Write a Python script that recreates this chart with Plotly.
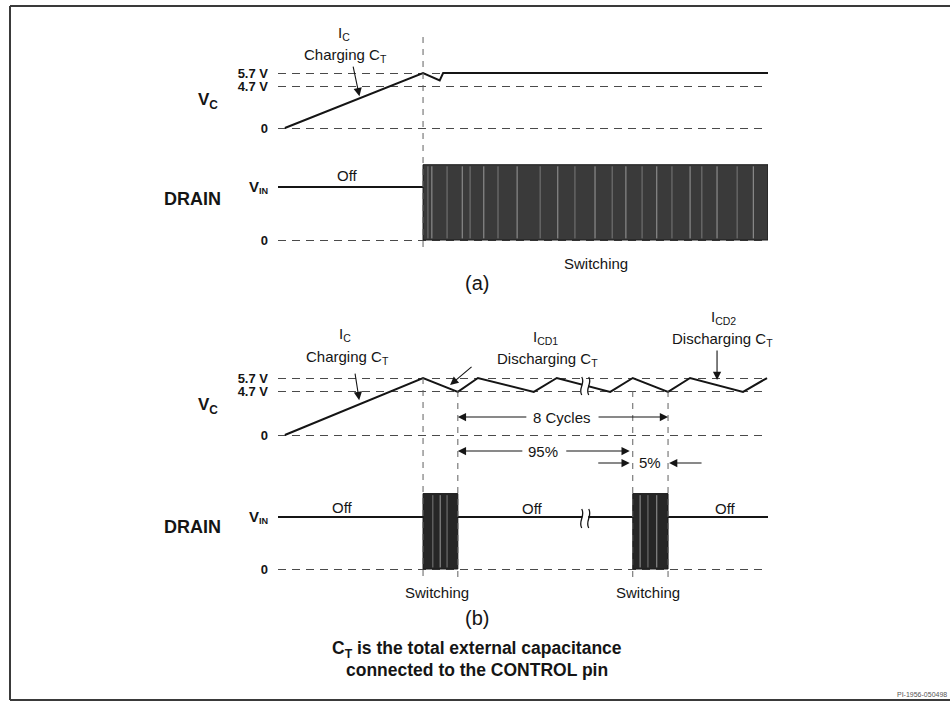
import numpy as np
import plotly.graph_objects as go

W, H = 950, 701
FONT = "Liberation Sans, Arial, sans-serif"

# ------------------------------------------------------------------ data
# schematic time axis (arbitrary units) shared by both timing diagrams
T_RANGE = [0, 100]

# schematic level used to draw each labelled voltage
VC_TICK_TEXT = ["0", "4.7 V", "5.7 V"]
VC_TICK_LEVEL = [0, 3.1, 4.1]
DRAIN_TICK_TEXT = ["0", "<span style='font-size:15px'>V</span><sub>IN</sub>"]
DRAIN_TICK_LEVEL = [0, 1]

# (a) power-up: C_T charges, then switching begins
VC_A_T = [1.4, 29.6, 33.0, 33.7, 100]
VC_A_V = [0, 4.1, 3.55, 4.1, 4.1]
DRAIN_A_OFF_T = [0, 29.6]
DRAIN_A_OFF_V = [1, 1]
SWITCH_A = [[29.6, 100]]
SWITCH_A_PEAK = 1.42
SWITCH_A_STREAKS = [30.6, 31.4, 34.5, 37.6, 39.2, 42.0, 44.9, 48.8, 53.5, 57.1, 60.6,
                    64.7, 68.2, 71.0, 74.3, 77.3, 80.4, 84.1, 86.5, 89.6, 93.7, 97.0]
MARK_A = [29.6]

# (b) auto-restart: 8 cycles of the sawtooth between 5.7 V and 4.7 V
VC_B_T = [1.4, 29.6, 36.7, 40.8, 52.2, 56.9, 67.8, 72.4, 79.6, 84.1, 94.9, 99.8]
VC_B_V = [0, 4.1, 3.1, 4.1, 3.1, 4.1, 3.1, 4.1, 3.1, 4.1, 3.1, 4.1]
DRAIN_B_OFF_T = [0, 100]
DRAIN_B_OFF_V = [1, 1]
SWITCH_B = [[29.6, 36.7], [72.4, 79.6]]
SWITCH_B_PEAK = 1.45
SWITCH_B_STREAKS = [31.6, 33.1, 34.5, 73.9, 75.5, 77.3]
MARK_B = [29.6, 36.7, 72.4, 79.6]
BREAK_T = 62.7

# ------------------------------------------------------------------ layout helpers
X_LEFT_PX, X_RIGHT_PX = 278, 768
PX_PER_T = (X_RIGHT_PX - X_LEFT_PX) / (T_RANGE[1] - T_RANGE[0])


def px(x):
    return x / W


def py(y):
    return 1 - y / H


def t2px(t):
    return X_LEFT_PX + (t - T_RANGE[0]) * PX_PER_T


def ydom(zero_px, unit_px, lo, hi):
    return [py(zero_px - lo * unit_px), py(zero_px - hi * unit_px)]


INK = "#151515"


def yaxis(dom, rng, vals, text):
    return dict(domain=dom, range=rng, tickvals=vals, ticktext=text,
                showgrid=True, gridcolor="#4a4a4a", griddash="8px,6px", gridwidth=1,
                zeroline=False, showline=False, ticks="", ticklabelstandoff=9,
                tickfont=dict(family=FONT, size=13, color=INK, weight="bold"),
                anchor="x", fixedrange=True)


fig = go.Figure()


def wave(t, v, yref):
    fig.add_trace(go.Scatter(x=t, y=v, mode="lines", xaxis="x", yaxis=yref,
                             line=dict(color=INK, width=2), hoverinfo="skip"))


def bursts(spans, peak, streaks, yref, fill):
    for a, b in spans:
        fig.add_trace(go.Scatter(x=[a, b, b, a, a], y=[0, 0, peak, peak, 0],
                                 mode="lines", fill="toself", fillcolor=fill,
                                 line=dict(color="#1a1a1a", width=1),
                                 xaxis="x", yaxis=yref, hoverinfo="skip"))
    for i, tone in enumerate(["#7a7a7a", "#9a9a9a"]):
        sx, sy = [], []
        for s in streaks[i::2]:
            sx += [s, s, None]
            sy += [0.03, peak - 0.03, None]
        fig.add_trace(go.Scatter(x=sx, y=sy, mode="lines", line=dict(color=tone, width=1),
                                 xaxis="x", yaxis=yref, hoverinfo="skip"))


wave(VC_A_T, VC_A_V, "y")
wave(DRAIN_A_OFF_T, DRAIN_A_OFF_V, "y2")
bursts(SWITCH_A, SWITCH_A_PEAK, SWITCH_A_STREAKS, "y2", "#3a3a3a")
wave(VC_B_T, VC_B_V, "y3")
wave(DRAIN_B_OFF_T, DRAIN_B_OFF_V, "y4")
bursts(SWITCH_B, SWITCH_B_PEAK, SWITCH_B_STREAKS, "y4", "#262626")

shapes = []
# outer frame (top, left, bottom edges; the right edge lies beyond the picture)
frame = dict(color="#3a3a3a", width=2)
shapes.append(dict(type="line", xref="paper", yref="paper", x0=px(10), x1=1, y0=py(6), y1=py(6), line=frame))
shapes.append(dict(type="line", xref="paper", yref="paper", x0=px(10), x1=px(10), y0=py(6), y1=py(700), line=frame))
shapes.append(dict(type="line", xref="paper", yref="paper", x0=px(10), x1=1, y0=py(700), y1=py(700), line=frame))
# vertical timing markers
for t in MARK_A:
    shapes.append(dict(type="line", xref="x", yref="paper", x0=t, x1=t,
                       y0=py(37), y1=py(248), line=dict(color="#606060", width=1, dash="6px,6px")))
mark_tops = [378, 391, 391, 391]
for t, top in zip(MARK_B, mark_tops):
    shapes.append(dict(type="line", xref="x", yref="paper", x0=t, x1=t,
                       y0=py(top), y1=py(578), line=dict(color="#606060", width=1, dash="6px,6px")))


# break symbols on V_C and DRAIN of (b)
def squiggle(xc, y1, y2):
    h = y2 - y1
    return "M {:.5f},{:.5f} C {:.5f},{:.5f} {:.5f},{:.5f} {:.5f},{:.5f}".format(
        px(xc), py(y1), px(xc + 4), py(y1 + h * 0.35), px(xc - 4), py(y1 + h * 0.65), px(xc), py(y2))


bx = t2px(BREAK_T)
for (y1, y2) in [(377, 395), (509, 528)]:
    shapes.append(dict(type="rect", xref="paper", yref="paper", x0=px(bx - 3), x1=px(bx + 3),
                       y0=py(y2 - 3), y1=py(y1 + 3), fillcolor="white", line=dict(width=0)))
    for dx in (-3.5, 3.5):
        shapes.append(dict(type="path", xref="paper", yref="paper", path=squiggle(bx + dx, y1, y2),
                           line=dict(color=INK, width=1.3)))

ann = []


def label(x, y, text, size=15, bold=False, color=INK, xanchor="center"):
    ann.append(dict(x=px(x), y=py(y), xref="paper", yref="paper", text=text, showarrow=False,
                    font=dict(family=FONT, size=size, color=color, weight="bold" if bold else "normal"),
                    xanchor=xanchor, yanchor="middle"))


def arrow(t, lvl, yref, ax, ay, standoff=2):
    ann.append(dict(x=t, y=lvl, xref="x", yref=yref, ax=ax, ay=ay, axref="pixel", ayref="pixel",
                    text="", showarrow=True, arrowhead=2, arrowsize=1.5, arrowwidth=1.1,
                    arrowcolor=INK, standoff=standoff))


def dim_arrow(t, y, ax, standoff=0):
    ann.append(dict(x=t, y=py(y), xref="x", yref="paper", ax=ax, ay=0, axref="pixel", ayref="pixel",
                    text="", showarrow=True, arrowhead=2, arrowsize=1.5, arrowwidth=1.1,
                    arrowcolor=INK, standoff=standoff))


# axis names
label(208, 101, "V<sub>C</sub>", 17, True)
label(192, 199, "DRAIN", 18, True)
label(208, 406, "V<sub>C</sub>", 17, True)
label(192, 527, "DRAIN", 18, True)

# (a) texts
label(344, 34, "I<sub>C</sub>", 15)
label(345, 55, "Charging C<sub>T</sub>", 15)
arrow(16.7, float(np.interp(16.7, VC_A_T, VC_A_V)), "y", -7, -33, 2)
label(347, 175, "Off", 15)
label(596, 263, "Switching", 15)
label(477, 283, "(a)", 20)

# (b) texts
label(345, 335, "I<sub>C</sub>", 15)
label(347, 357, "Charging C<sub>T</sub>", 15)
arrow(16.7, float(np.interp(16.7, VC_B_T, VC_B_V)), "y3", -5, -32, 4)
label(545, 337, "I<sub>CD1</sub>", 15)
label(547, 359, "Discharging C<sub>T</sub>", 15)
arrow(34.5, float(np.interp(34.5, VC_B_T, VC_B_V)), "y3", 26, -22, 4)
label(723, 317, "I<sub>CD2</sub>", 15)
label(722, 339, "Discharging C<sub>T</sub>", 15)
arrow(89.6, float(np.interp(89.6, VC_B_T, VC_B_V)), "y3", 0, -36, 5)

label(562, 417, "8 Cycles", 15)
dim_arrow(MARK_B[1], 417, 70)
dim_arrow(MARK_B[3], 417, -71)
label(543, 451, "95%", 15)
dim_arrow(MARK_B[1], 451, 66)
dim_arrow(MARK_B[2], 451, -68, 3)
label(650, 463, "5%", 15)
dim_arrow(MARK_B[2], 463, -36, 3)
dim_arrow(MARK_B[3], 463, 35, 1)

label(342, 507, "Off", 15)
label(532, 508, "Off", 15)
label(725, 508, "Off", 15)
label(437, 592, "Switching", 15)
label(648, 592, "Switching", 15)
label(477, 618, "(b)", 20)

label(477, 649, "C<sub>T</sub> is the total external capacitance", 17.5, True)
label(477, 670, "connected to the CONTROL pin", 17.5, True)
label(949, 694, "PI-1956-050498", 7, False, "#555", "right")

fig.update_layout(
    width=W, height=H, margin=dict(l=0, r=0, t=0, b=0),
    paper_bgcolor="white", plot_bgcolor="white", showlegend=False,
    xaxis=dict(domain=[px(X_LEFT_PX), px(X_RIGHT_PX)], range=T_RANGE, visible=False,
               fixedrange=True, anchor="y"),
    yaxis=yaxis(ydom(128, 13.4, -0.7, 4.6), [-0.7, 4.6], VC_TICK_LEVEL, VC_TICK_TEXT),
    yaxis2=yaxis(ydom(240, 53, -0.3, 1.7), [-0.3, 1.7], DRAIN_TICK_LEVEL, DRAIN_TICK_TEXT),
    yaxis3=yaxis(ydom(435, 13.9, -0.7, 4.6), [-0.7, 4.6], VC_TICK_LEVEL, VC_TICK_TEXT),
    yaxis4=yaxis(ydom(569, 52, -0.3, 1.7), [-0.3, 1.7], DRAIN_TICK_LEVEL, DRAIN_TICK_TEXT),
    shapes=shapes, annotations=ann,
)

fig.write_html("out.html", config={"displayModeBar": False},
               post_script="document.body.style.margin='0';document.body.style.overflow='hidden';")
